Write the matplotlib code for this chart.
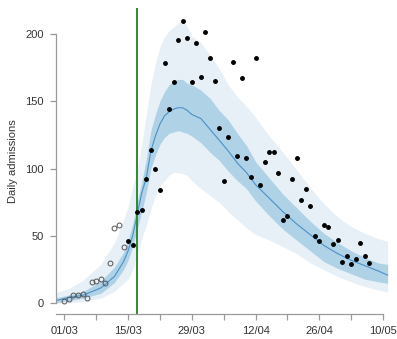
import matplotlib
matplotlib.use('Agg')
import matplotlib.pyplot as plt

plt.rcParams['font.family'] = ['Liberation Sans', 'DejaVu Sans']

# observed admissions (day 0 = 01/03)
fit_days = list(range(0, 14))
fit_obs = [2, 3, 6, 6, 7, 4, 16, 17, 18, 15, 30, 56, 58, 42]
new_days = list(range(14, 68))
new_obs = [46, 43, 68, 69, 92, 114, 100, 84, 178, 144, 164, 195, 209, 197, 164,
           193, 168, 201, 182, 165, 130, 91, 123, 179, 109, 167, 108, 94, 182, 88,
           105, 112, 112, 97, 62, 65, 92, 108, 77, 85, 72, 50, 46, 58, 57, 44,
           47, 31, 35, 29, 33, 45, 35, 30]

# model projection quantiles
proj_days = [-2, 1, 4, 8, 11, 13, 14, 15, 16, 17, 18, 19, 20, 21, 22, 23, 24, 25,
             26, 27, 28, 30, 32, 34, 36, 38, 40, 42, 45, 48, 51, 54, 57, 60, 63,
             66, 69, 71]
median = [2, 4.5, 6, 11.5, 20, 31, 39, 50, 66, 82, 93, 113, 124, 133, 139, 142,
          144, 145, 145, 143, 140, 137, 129, 121, 113, 104, 97, 88, 78, 68, 59,
          51, 43, 37, 32, 28, 24, 21]
inner_lo = [0.5, 2, 3.9, 7.5, 15.5, 25, 32, 42, 55, 68, 82, 100, 110, 118, 123,
            126, 127, 128, 127, 126, 124, 119, 112, 106, 98, 91, 85, 76, 65, 55,
            47, 39, 31, 26, 22, 18, 16, 15]
inner_hi = [4, 6.3, 8.7, 16.5, 27, 38, 47, 59, 75, 90, 107, 128, 140, 150, 157,
            162, 165, 166, 166, 163, 162, 158, 152, 143, 136, 126, 117, 105, 93,
            81, 71, 61, 52, 45, 39, 34, 30, 29]
outer_lo = [0, 0.5, 1.3, 4, 9, 15, 18, 25, 36, 48, 58, 70, 80, 87, 91, 95, 97,
            97, 96, 95, 91, 85, 80, 75, 68, 62, 56, 51, 47, 42, 37, 30, 25, 20,
            16, 12.5, 10, 8.7]
outer_hi = [8, 11, 17, 29, 45, 62, 72, 86, 99, 118, 140, 162, 178, 190, 198, 202,
            205, 208, 210, 205, 198, 193, 184, 174, 162, 153, 146, 138, 124, 112,
            99, 86, 74, 64, 57, 52, 48, 46]

cutoff_day = 15.9
tick_days = list(range(0, 71, 7))
tick_labels = ['01/03', '', '15/03', '', '29/03', '', '12/04', '', '26/04', '', '10/05']

fig = plt.figure(figsize=(3.97, 3.39), dpi=100)
ax = fig.add_axes([0.1403, 0.0723, 0.8418, 0.9041])

ax.fill_between(proj_days, outer_lo, outer_hi, color='#e8f0f7', lw=0)
ax.fill_between(proj_days, inner_lo, inner_hi, color='#b0d2e7', lw=0)
ax.plot(proj_days, median, color='#4a90c8', lw=0.8)

ax.axvline(cutoff_day, color='#2f8a2f', lw=1.4)

ax.plot(fit_days, fit_obs, 'o', ms=3.5, mfc='none', mec='#555555', mew=0.7)
ax.plot(new_days, new_obs, 'o', ms=2.5, color='black')

ax.set_xlim(-1.9, 71.5)
ax.set_ylim(-8.15, 218.9)

for s in ['top', 'right']:
    ax.spines[s].set_visible(False)
for s in ['left', 'bottom']:
    ax.spines[s].set_color('#999999')
    ax.spines[s].set_linewidth(0.9)
ax.spines['left'].set_bounds(0, 200)
ax.spines['bottom'].set_bounds(-1.9, 70)

ax.set_yticks([0, 50, 100, 150, 200])
ax.set_xticks(tick_days)
ax.set_xticklabels(tick_labels)
ax.tick_params(colors='#999999', labelcolor='#333333', labelsize=8,
               length=4.5, width=0.9, pad=4)
ax.set_ylabel('Daily admissions', fontsize=8, color='#333333', labelpad=5)

plt.savefig('out.png', dpi=100)
plt.close()
